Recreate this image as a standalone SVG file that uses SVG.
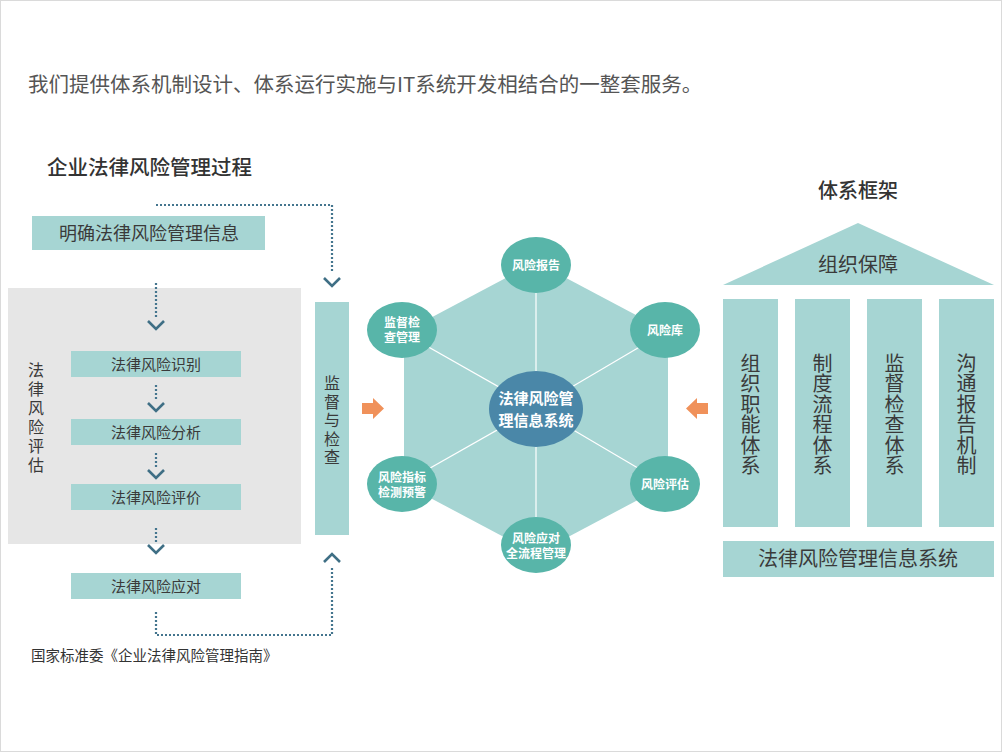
<svg xmlns="http://www.w3.org/2000/svg" width="1002" height="752" viewBox="0 0 1002 752">
<style>
text{font-family:"Noto Sans CJK SC","Noto Sans",sans-serif;fill:#3a3a3a}
.box{fill:#a6d5d3}
.dot{fill:none;stroke:#44758e;stroke-width:2.2;stroke-dasharray:2 2}
.chev{fill:none;stroke:#3f6f85;stroke-width:2.6}
.ell{fill:#58b5a9}
.et{fill:#fff;font-size:12px;font-weight:bold;text-anchor:middle}
.spoke{stroke:#fff;stroke-width:1.2}
.bt{font-size:15px;text-anchor:middle}
.pt{font-size:20px;text-anchor:middle}
.vt{writing-mode:vertical-rl;text-orientation:upright;font-size:20px;letter-spacing:0.5px}
.v16{writing-mode:vertical-rl;text-orientation:upright;font-size:16px}
.arr{fill:#f0915a}
</style>
<rect x="0.5" y="0.5" width="1001" height="751" fill="#fff" stroke="#dadada"/>
<text id="title" x="28" y="92" font-size="20.5" style="fill:#555">我们提供体系机制设计、体系运行实施与IT系统开发相结合的一整套服务。</text>

<g id="left-title"><text x="47" y="175" font-size="20.5" font-weight="500" style="fill:#333">企业法律风险管理过程</text></g>
<g id="n-info"><rect class="box" x="32" y="216" width="233" height="34"/><text x="149" y="239.5" font-size="18" text-anchor="middle">明确法律风险管理信息</text></g>
<g id="n-assess"><rect x="8" y="288" width="293" height="256" fill="#e6e6e6"/>
<text class="v16" x="36" y="362" letter-spacing="3">法律风险评估</text></g>
<g id="n-identify"><rect class="box" x="71" y="351" width="170" height="26"/><text class="bt" x="156" y="369.5">法律风险识别</text></g>
<g id="n-analyze"><rect class="box" x="71" y="419" width="170" height="26"/><text class="bt" x="156" y="437.5">法律风险分析</text></g>
<g id="n-evaluate"><rect class="box" x="71" y="484" width="170" height="26"/><text class="bt" x="156" y="502.5">法律风险评价</text></g>
<g id="n-respond"><rect class="box" x="71" y="573" width="170" height="26"/><text class="bt" x="156" y="591.5">法律风险应对</text></g>
<g id="source"><text x="31" y="661" font-size="14.5" style="fill:#333">国家标准委《企业法律风险管理指南》</text></g>
<g id="n-supervise"><rect class="box" x="315" y="302" width="34" height="233"/>
<text class="v16" x="332" y="375" letter-spacing="2.5">监督与检查</text></g>

<g id="connectors">
<path class="dot" d="M156,205 H332 V273"/>
<path class="chev" d="M324,278 L332,286 L340,278"/>
<path class="dot" d="M156,283 V317"/>
<path class="chev" d="M148,321 L156,329 L164,321"/>
<path class="dot" d="M156,385 V401"/>
<path class="chev" d="M148,403 L156,411 L164,403"/>
<path class="dot" d="M156,453 V468"/>
<path class="chev" d="M148,470 L156,478 L164,470"/>
<path class="dot" d="M156,528 V542"/>
<path class="chev" d="M148,545 L156,553 L164,545"/>
<path class="dot" d="M156,612 V635 H332 V566"/>
<path class="chev" d="M324,562 L332,554 L340,562"/>
<polygon class="arr" points="362,403 373,403 373,398 384,408.5 373,419 373,414 362,414"/>
<polygon class="arr" points="708,403 697,403 697,398 686,408.5 697,419 697,414 708,414"/>
</g>

<g id="hexagon">
<polygon points="536,262 668,332 668,484 536,554 404,484 404,332" fill="#a6d5d3"/>
<line class="spoke" x1="536" y1="408" x2="536" y2="265"/>
<line class="spoke" x1="536" y1="408" x2="665" y2="332"/>
<line class="spoke" x1="536" y1="408" x2="665" y2="484"/>
<line class="spoke" x1="536" y1="408" x2="536" y2="545"/>
<line class="spoke" x1="536" y1="408" x2="402" y2="484"/>
<line class="spoke" x1="536" y1="408" x2="402" y2="332"/>
</g>
<g id="e-report"><ellipse class="ell" cx="536" cy="265" rx="35" ry="28"/><text class="et" x="536" y="269.5">风险报告</text></g>
<g id="e-lib"><ellipse class="ell" cx="665" cy="330" rx="35" ry="28"/><text class="et" x="665" y="334.5">风险库</text></g>
<g id="e-eval"><ellipse class="ell" cx="665" cy="484" rx="35" ry="28"/><text class="et" x="665" y="488.5">风险评估</text></g>
<g id="e-respond"><ellipse class="ell" cx="536" cy="545" rx="35" ry="28"/><text class="et"><tspan x="536" y="543">风险应对</tspan><tspan x="536" y="558">全流程管理</tspan></text></g>
<g id="e-warn"><ellipse class="ell" cx="402" cy="484" rx="35" ry="28"/><text class="et"><tspan x="402" y="481.5">风险指标</tspan><tspan x="402" y="496.5">检测预警</tspan></text></g>
<g id="e-superv"><ellipse class="ell" cx="402" cy="330" rx="35" ry="28"/><text class="et"><tspan x="402" y="327">监督检</tspan><tspan x="402" y="342">查管理</tspan></text></g>
<g id="e-center"><ellipse cx="536" cy="409" rx="47" ry="38" fill="#4a87a8"/><text x="536" font-size="15" font-weight="bold" text-anchor="middle" style="fill:#fff"><tspan x="536" y="403.5">法律风险管</tspan><tspan x="536" y="425.5">理信息系统</tspan></text></g>

<g id="right-title"><text x="858" y="198" font-size="20" font-weight="500" text-anchor="middle" style="fill:#333">体系框架</text></g>
<g id="roof"><polygon class="box" points="858,223 994,285 723,285"/><text class="pt" x="858" y="272">组织保障</text></g>
<g id="p1"><rect class="box" x="723" y="299" width="55" height="228"/><text class="vt" x="750.5" y="353">组织职能体系</text></g>
<g id="p2"><rect class="box" x="795" y="299" width="55" height="228"/><text class="vt" x="822.5" y="353">制度流程体系</text></g>
<g id="p3"><rect class="box" x="867" y="299" width="55" height="228"/><text class="vt" x="894.5" y="353">监督检查体系</text></g>
<g id="p4"><rect class="box" x="939" y="299" width="55" height="228"/><text class="vt" x="966.5" y="353">沟通报告机制</text></g>
<g id="base"><rect class="box" x="723" y="541" width="271" height="36"/><text class="pt" x="858" y="566">法律风险管理信息系统</text></g>
</svg>
